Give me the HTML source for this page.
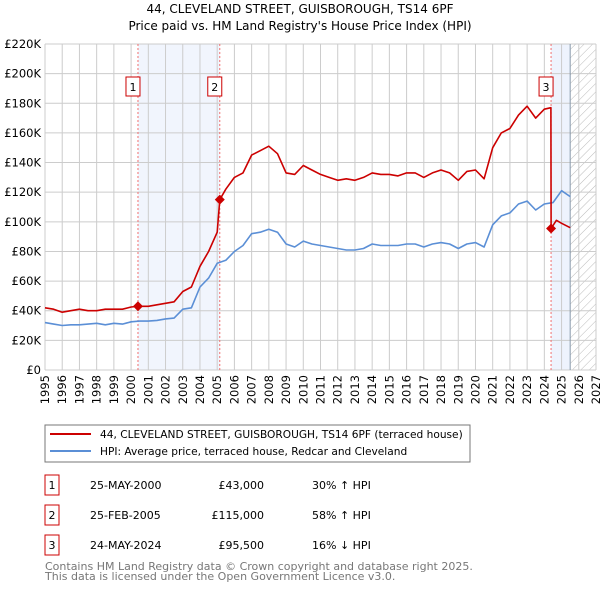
<!DOCTYPE html>
<html><head><meta charset="utf-8"><style>
body{margin:0;background:#fff;}
svg text{font-family:"DejaVu Sans","Liberation Sans",sans-serif;}
</style></head><body>
<svg id="c" width="600" height="590" xmlns="http://www.w3.org/2000/svg">
<defs><pattern id="hatch" width="6" height="6" patternUnits="userSpaceOnUse" patternTransform="rotate(45)"><line x1="0" y1="0" x2="0" y2="6" stroke="#bbb" stroke-width="1"/></pattern></defs>
<text x="300" y="13" text-anchor="middle" font-size="12">44, CLEVELAND STREET, GUISBOROUGH, TS14 6PF</text>
<text x="300" y="30" text-anchor="middle" font-size="12">Price paid vs. HM Land Registry's House Price Index (HPI)</text>
<g id="plot"></g>
<rect x="45" y="425" width="425" height="37" fill="#fff" stroke="#777"/>
<line x1="50" y1="434" x2="91" y2="434" stroke="#cc0000" stroke-width="2"/>
<text x="100" y="438" font-size="10.6">44, CLEVELAND STREET, GUISBOROUGH, TS14 6PF (terraced house)</text>
<line x1="50" y1="451" x2="91" y2="451" stroke="#5b8fd6" stroke-width="2"/>
<text x="100" y="455" font-size="10.6">HPI: Average price, terraced house, Redcar and Cleveland</text>
<g id="table" font-size="11"></g>
<text x="45" y="570" font-size="11" fill="#777">Contains HM Land Registry data © Crown copyright and database right 2025.</text>
<text x="45" y="580" font-size="11" fill="#777">This data is licensed under the Open Government Licence v3.0.</text>
</svg>
<script>
const yTicks=[0,20,40,60,80,100,120,140,160,180,200,220];
const yTickLabels=["£0","£20K","£40K","£60K","£80K","£100K","£120K","£140K","£160K","£180K","£200K","£220K"];
const xYears=[1995,1996,1997,1998,1999,2000,2001,2002,2003,2004,2005,2006,2007,2008,2009,2010,2011,2012,2013,2014,2015,2016,2017,2018,2019,2020,2021,2022,2023,2024,2025,2026,2027];
const hpiYears=[1995,1995.5,1996,1996.5,1997,1997.5,1998,1998.5,1999,1999.5,2000,2000.5,2001,2001.5,2002,2002.5,2003,2003.5,2004,2004.5,2005,2005.5,2006,2006.5,2007,2007.5,2008,2008.5,2009,2009.5,2010,2010.5,2011,2011.5,2012,2012.5,2013,2013.5,2014,2014.5,2015,2015.5,2016,2016.5,2017,2017.5,2018,2018.5,2019,2019.5,2020,2020.5,2021,2021.5,2022,2022.5,2023,2023.5,2024,2024.5,2025,2025.5];
const hpiValues=[32,31,30,30.5,30.5,31,31.5,30.5,31.5,31,32.5,33,33,33.5,34.5,35,41,42,56,62,72,74,80,84,92,93,95,93,85,83,87,85,84,83,82,81,81,82,85,84,84,84,85,85,83,85,86,85,82,85,86,83,98,104,106,112,114,108,112,113,121,117];
const priceYears=[1995,1995.5,1996,1996.5,1997,1997.5,1998,1998.5,1999,1999.5,2000,2000.4,2001,2001.5,2002,2002.5,2003,2003.5,2004,2004.5,2005,2005.15,2005.5,2006,2006.5,2007,2007.5,2008,2008.5,2009,2009.5,2010,2010.5,2011,2011.5,2012,2012.5,2013,2013.5,2014,2014.5,2015,2015.5,2016,2016.5,2017,2017.5,2018,2018.5,2019,2019.5,2020,2020.5,2021,2021.5,2022,2022.5,2023,2023.5,2024,2024.38,2024.39,2024.7,2025,2025.5];
const priceValues=[42,41,39,40,41,40,40,41,41,41,42.5,43,43,44,45,46,53,56,70,80,93,115,122,130,133,145,148,151,146,133,132,138,135,132,130,128,129,128,130,133,132,132,131,133,133,130,133,135,133,128,134,135,129,150,160,163,172,178,170,176,177,95.5,101,99,96];
const sales=[{n:"1",year:2000.4,value:43,date:"25-MAY-2000",price:"£43,000",hpi:"30% ↑ HPI"},{n:"2",year:2005.15,value:115,date:"25-FEB-2005",price:"£115,000",hpi:"58% ↑ HPI"},{n:"3",year:2024.39,value:95.5,date:"24-MAY-2024",price:"£95,500",hpi:"16% ↓ HPI"}];
const X0=45,X1=596,Y0=370,Y1=44;
const xs=y=>X0+(y-1995)/32*(X1-X0);
const ys=v=>Y0-v/220*(Y0-Y1);
const NS="http://www.w3.org/2000/svg";
const plot=document.getElementById('plot');
function mk(tag,attrs,parent){const e=document.createElementNS(NS,tag);for(const k in attrs)e.setAttribute(k,attrs[k]);(parent||plot).appendChild(e);return e;}
let r=mk('rect',{x:xs(2000.4),y:Y1,width:xs(2005.15)-xs(2000.4),height:Y0-Y1,fill:'#eef3fd',opacity:0.8});


r=mk('rect',{x:xs(2024.39),y:Y1,width:xs(2025.5)-xs(2024.39),height:Y0-Y1,fill:'#eef3fd'});


r=mk('rect',{x:xs(2025.5),y:Y1,width:X1-xs(2025.5),height:Y0-Y1,fill:'url(#hatch)'});


yTicks.forEach((t,i)=>{
 const l=mk('line',{x1:X0,x2:X1,y1:ys(t),y2:ys(t),stroke:'#ccc'});
 
 
 const tx=mk('text',{x:X0-4,y:ys(t)+4,'text-anchor':'end','font-size':11.5});
 
 
 tx.textContent=yTickLabels[i];
});
xYears.forEach(yr=>{
 const l=mk('line',{x1:xs(yr),x2:xs(yr),y1:Y1,y2:Y0,stroke:'#ccc'});
 
 
 const tx=mk('text',{x:0,y:0,'text-anchor':'end','font-size':11.5,transform:`translate(${xs(yr)+4},${Y0+5}) rotate(-90)`});
 
 
 tx.textContent=yr;
});
let bl=mk('line',{x1:xs(2025.5),x2:xs(2025.5),y1:Y1,y2:Y0,stroke:'#8899aa'});


sales.forEach(s=>{
 const l=mk('line',{x1:xs(s.year),x2:xs(s.year),y1:Y1,y2:Y0,stroke:'#f07070','stroke-dasharray':'2,2'});
 
 
});
function path(xa,va,color,name){
 const d=xa.map((x,i)=>(i?'L':'M')+xs(x).toFixed(1)+','+ys(va[i]).toFixed(1)).join('');
 const p=mk('path',{d,fill:'none',stroke:color,'stroke-width':1.6,'stroke-linejoin':'round'});
 
 
}
path(hpiYears,hpiValues,'#5b8fd6','hpi-line');
path(priceYears,priceValues,'#cc0000','price-line');
sales.forEach(s=>{
 const cx=xs(s.year),cy=ys(s.value);
 const d=mk('path',{d:`M${cx},${cy-5}L${cx+5},${cy}L${cx},${cy+5}L${cx-5},${cy}Z`,fill:'#cc0000'});
 
 
 const bx=cx-12, by=77;
 const b=mk('rect',{x:bx,y:by,width:14,height:19,fill:'#fff',stroke:'#cc0000'});
 
 
 const t=mk('text',{x:bx+7,y:by+14,'text-anchor':'middle','font-size':11});
 
 
 t.textContent=s.n;
});
const tb=document.getElementById('table');
sales.forEach((s,i)=>{
 const y0=475+i*30;
 const b=mk('rect',{x:45,y:y0,width:14,height:20,fill:'#fff',stroke:'#cc0000'},tb);
 
 
 const cells=[[52,'middle',s.n,'table-num'],[90,'start',s.date,'table-date'],[264,'end',s.price,'table-price'],[312,'start',s.hpi,'table-hpi']];
 cells.forEach(c=>{
  const t=mk('text',{x:c[0],y:y0+14,'text-anchor':c[1]},tb);
  
  
  t.textContent=c[2];
 });
});
</script>
</body></html>
